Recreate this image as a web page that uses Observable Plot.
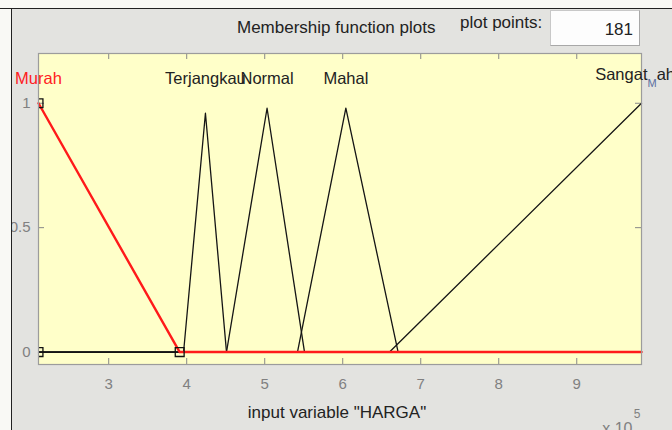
<!DOCTYPE html>
<html>
<head>
<meta charset="utf-8">
<script src="https://cdn.jsdelivr.net/npm/d3@7"></script>
<script src="https://cdn.jsdelivr.net/npm/@observablehq/plot@0.6"></script>
<style>
  html, body { margin: 0; padding: 0; overflow: hidden; background: #f9f9f5; }
  #wrap { position: relative; width: 672px; height: 430px; background: #e3e3e0; overflow: hidden;
          font-family: 'Liberation Sans', Arial, sans-serif; }
  #chart { position: absolute; left: 0; top: 0; }
  .hdr { position: absolute; color: #222; white-space: nowrap; }
  #title { left: 237px; top: 18px; font-size: 17px; }
  #pplabel { left: 460px; top: 13px; font-size: 17px; }
  #ppbox { position: absolute; left: 550px; top: 10px; width: 90px; height: 36px; background: #fdfdfd;
           border: 1px solid #c8c8c8; border-right-color: #a8a8a8; border-bottom-color: #a8a8a8;
           font-size: 17px; color: #222; text-align: right; line-height: 38px; padding-right: 6px; box-sizing: border-box; }
  #bleft { position: absolute; left: 0; top: 0; width: 11px; height: 430px; background: #f9f9f5; border-right: 1.5px solid #222; z-index: 5; }
  #btop { position: absolute; left: 0; top: 0; width: 672px; height: 8px; background: #f9f9f5; border-bottom: 1.5px solid #222; z-index: 5; }
</style>
</head>
<body>
<div id="wrap">
  <div id="chart"></div>
  <div class="hdr" id="title">Membership function plots</div>
  <div class="hdr" id="pplabel">plot points:</div>
  <div id="ppbox">181</div>
  <div id="bleft"></div>
  <div id="btop"></div>
</div>
<script>
// ---- data ----
const xDomain = [2.1, 9.83];
const yDomain = [-0.05, 1.2];
const xTicks = [3, 4, 5, 6, 7, 8, 9];
const yTicks = [0, 0.5, 1];

const mfNames = ["Murah", "Terjangkau", "Normal", "Mahal", "Sangat_Mahal"];
const mfLabelX = [2.1, 4.24, 5.03, 6.04, 9.83];

const murahX = [2.1, 3.91, 9.83];
const murahY = [1, 0, 0];
const terjangkauX = [2.1, 3.96, 4.24, 4.51, 9.83];
const terjangkauY = [0, 0, 0.96, 0, 0];
const normalX = [2.1, 4.51, 5.03, 5.51, 9.83];
const normalY = [0, 0, 0.98, 0, 0];
const mahalX = [2.1, 5.42, 6.04, 6.71, 9.83];
const mahalY = [0, 0, 0.98, 0, 0];
const sangatMahalX = [2.1, 6.60, 9.83];
const sangatMahalY = [0, 0, 1];

const murahMarkerX = [2.1, 2.1, 3.91];
const murahMarkerY = [1, 0, 0];

const xLabel = 'input variable "HARGA"';
const exponentBase = "x 10";
const exponentPower = "5";

// ---- build rows ----
const seriesX = [murahX, terjangkauX, normalX, mahalX, sangatMahalX];
const seriesY = [murahY, terjangkauY, normalY, mahalY, sangatMahalY];
const rows = [];
mfNames.forEach((name, i) => seriesX[i].forEach((x, j) => rows.push({mf: name, x, y: seriesY[i][j]})));
const selected = rows.filter(d => d.mf === "Murah");
const others = rows.filter(d => d.mf !== "Murah");
const markers = murahMarkerX.map((x, i) => ({x, y: murahMarkerY[i]}));
const labels = mfNames.map((name, i) => ({name, x: mfLabelX[i]}));

const W = 672, H = 430, mL = 38, mR = 31, mT = 53, mB = 66;
const innerH = H - mT - mB, innerW = W - mL - mR;
const tickLen = 6;
const font = "'Liberation Sans', Arial, sans-serif";

const chart = Plot.plot({
  width: W, height: H,
  marginLeft: mL, marginRight: mR, marginTop: mT, marginBottom: mB,
  style: {background: "transparent", fontFamily: font, overflow: "visible"},
  x: {domain: xDomain},
  y: {domain: yDomain},
  marks: [
    Plot.frame({fill: "#ffffc9"}),
    Plot.ruleX(xTicks, {insetTop: innerH - tickLen, stroke: "#888"}),
    Plot.ruleX(xTicks, {insetBottom: innerH - tickLen, stroke: "#888"}),
    Plot.ruleY(yTicks, {insetRight: innerW - tickLen, stroke: "#888"}),
    Plot.ruleY(yTicks, {insetLeft: innerW - tickLen, stroke: "#888"}),
    Plot.line(others, {x: "x", y: "y", z: "mf", stroke: "#151515", strokeWidth: 1.3}),
    Plot.line(selected, {x: "x", y: "y", stroke: "#ff1a1a", strokeWidth: 2.4}),
    Plot.dot(markers, {x: "x", y: "y", symbol: "square", r: 5, stroke: "#111", fill: "none", strokeWidth: 1.3, clip: true}),
    Plot.frame({stroke: "#9c9c9c", strokeWidth: 1.2}),
    Plot.axisX({ticks: xTicks, tickSize: 0, tickPadding: 14, fontSize: 15, color: "#808080", label: null}),
    Plot.axisY({ticks: yTicks, tickSize: 0, tickPadding: 8, fontSize: 15, color: "#808080", label: null, tickFormat: d => String(d)}),
    Plot.text(labels, {x: "x", y: 1.1, text: "name", fontSize: 16.5,
      fill: d => d.name === "Murah" ? "#ff2020" : "#222", lineAnchor: "middle"}),
    Plot.text([xLabel], {frameAnchor: "bottom", dy: 48, dx: -3, fontSize: 17, fill: "#222", lineAnchor: "middle"}),
    Plot.text([exponentBase], {frameAnchor: "bottom-right", dx: -9, dy: 64, fontSize: 16, fill: "#808080", textAnchor: "end", lineAnchor: "middle"}),
    Plot.text([exponentPower], {frameAnchor: "bottom-right", dx: -1, dy: 50, fontSize: 12, fill: "#808080", textAnchor: "end", lineAnchor: "middle"})
  ]
});

// TeX-style subscript for the underscore in a label (as MATLAB renders it)
chart.querySelectorAll("text").forEach(t => {
  const s = t.textContent;
  if (s.includes("_")) {
    const [a, b] = s.split("_");
    while (t.firstChild) t.removeChild(t.firstChild);
    const ns = "http://www.w3.org/2000/svg";
    const t1 = document.createElementNS(ns, "tspan"); t1.textContent = a;
    const t2 = document.createElementNS(ns, "tspan"); t2.textContent = b[0];
    t2.setAttribute("font-size", "11"); t2.setAttribute("dy", "7"); t2.setAttribute("fill", "#5a6fa0");
    const t3 = document.createElementNS(ns, "tspan"); t3.textContent = b.slice(1);
    t3.setAttribute("dy", "-7");
    t.appendChild(t1); t.appendChild(t2); t.appendChild(t3);
    t.setAttribute("transform", (t.getAttribute("transform") || "") + " translate(0,-4)");
  }
});

document.getElementById("chart").appendChild(chart);
</script>
</body>
</html>
